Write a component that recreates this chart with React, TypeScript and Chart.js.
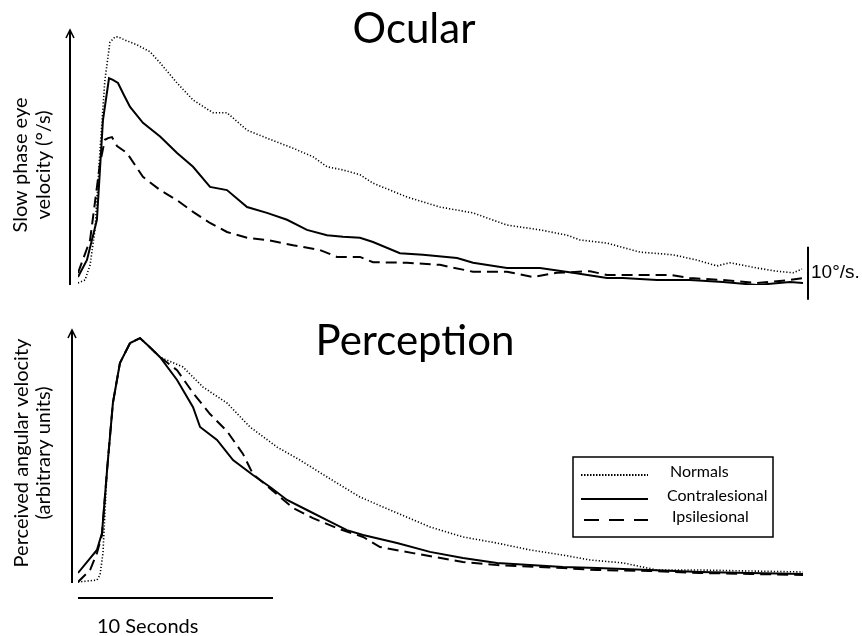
import React, { useEffect, useRef } from "react";
import { Chart, registerables } from "chart.js";

Chart.register(...registerables);

// ---------- Ocular panel (time in s, slow phase eye velocity in °/s) ----------
const ocularNormalsT = [0, 0.36, 0.62, 0.87, 1.13, 1.38, 1.64, 1.9, 2.05, 2.41, 3.03, 3.69, 4.21, 5.08, 5.9, 6.92, 7.64, 8.67, 9.69, 11.03, 12.05, 12.77, 13.59, 14.46, 15.13, 16.87, 18.56, 20.26, 22.0, 23.69, 25.08, 25.74, 27.13, 28.82, 30.51, 31.74, 32.77, 33.44, 34.82, 35.85, 36.67, 37.13];
const ocularNormalsV = [0.38, 0.94, 3.77, 10.4, 25.5, 38.7, 45.8, 46.8, 46.8, 46.2, 45.3, 44.0, 41.9, 38.1, 34.9, 32.5, 32.5, 29.2, 27.7, 25.8, 24.2, 22.3, 21.7, 20.8, 19.2, 16.6, 14.7, 13.6, 11.3, 10.4, 9.4, 8.5, 7.9, 6.2, 5.7, 4.7, 3.6, 4.2, 3.2, 2.6, 2.3, 3.0];

const ocularContraT = [0, 0.46, 0.97, 1.28, 1.59, 1.79, 2.05, 2.36, 2.67, 3.33, 4.21, 5.08, 5.9, 6.77, 7.64, 8.67, 9.69, 10.72, 11.74, 12.77, 13.59, 14.46, 15.13, 16.51, 17.69, 19.44, 20.26, 22.0, 23.69, 25.38, 27.13, 27.95, 29.69, 31.38, 33.08, 34.82, 36.51, 37.18];
const ocularContraV = [1.51, 4.72, 12.3, 31.1, 39.0, 38.7, 38.1, 35.8, 33.6, 30.6, 28.0, 24.9, 22.3, 18.5, 17.9, 14.7, 13.6, 12.3, 10.4, 9.4, 9.1, 8.9, 8.1, 6.0, 5.7, 5.1, 4.2, 3.2, 3.2, 2.3, 1.3, 1.3, 0.94, 0.94, 0.57, 0.0, 0.57, 0.38];

const ocularIpsiT = [0, 0.62, 1.13, 1.38, 1.54, 1.74, 2.0, 2.51, 3.33, 4.21, 5.08, 5.9, 6.77, 7.64, 8.67, 9.69, 11.03, 12.41, 13.28, 14.46, 15.13, 16.87, 18.56, 20.26, 22.0, 23.33, 24.56, 26.26, 27.13, 28.31, 30.36, 31.38, 33.08, 34.82, 36.51, 37.18];
const ocularIpsiV = [2.26, 8.5, 23.0, 27.4, 27.7, 27.9, 26.2, 24.9, 20.4, 17.9, 16.0, 13.8, 11.7, 10.0, 8.9, 8.5, 7.5, 6.6, 5.3, 5.3, 4.3, 4.2, 3.8, 2.5, 2.5, 1.5, 2.3, 2.6, 1.9, 1.9, 1.9, 1.3, 0.94, 0.38, 0.94, 1.3];

// ---------- Perception panel (time in s, perceived angular velocity, arbitrary units) ----------
const percNormalsT = [0, 0.97, 1.13, 1.28, 1.49, 1.79, 2.15, 2.67, 3.18, 4.21, 5.38, 6.41, 7.64, 8.82, 10.21, 11.38, 12.77, 14.46, 16.36, 18.05, 19.74, 21.49, 23.18, 24.87, 26.26, 27.95, 29.69, 31.9, 34.46, 37.18];
const percNormalsV = [0.4, 1.2, 3.3, 12.2, 46.1, 73.5, 89.8, 98.0, 100, 92.2, 88.2, 80.0, 73.5, 63.7, 55.5, 50.2, 43.3, 35.1, 28.6, 22.9, 18.8, 16.3, 13.5, 11.4, 9.4, 8.2, 5.3, 5.3, 4.9, 4.5];

const percContraT = [0, 0.97, 1.23, 1.49, 1.79, 2.15, 2.67, 3.18, 3.69, 4.21, 5.08, 5.9, 6.26, 7.13, 7.95, 8.97, 9.85, 10.72, 11.74, 12.77, 13.79, 14.62, 16.36, 18.05, 19.74, 21.49, 23.18, 24.87, 26.62, 29.33, 31.9, 34.46, 37.18];
const percContraV = [4.1, 13.5, 20.4, 46.1, 73.5, 89.8, 98.0, 100, 96.3, 92.2, 82.9, 71.8, 63.7, 58.4, 50.2, 44.1, 39.2, 33.9, 29.8, 25.7, 21.6, 19.6, 16.3, 12.7, 10.2, 8.2, 7.3, 6.5, 6.1, 5.3, 4.5, 4.1, 3.7];

const percIpsiT = [0, 0.62, 0.97, 1.23, 1.49, 1.79, 2.15, 2.67, 3.18, 4.21, 5.08, 5.9, 6.77, 7.64, 8.46, 8.97, 10.0, 11.03, 12.05, 13.28, 14.62, 15.49, 17.18, 19.74, 21.49, 24.87, 26.62, 29.33, 31.9, 34.46, 37.18];
const percIpsiV = [0.4, 5.3, 12.2, 19.6, 46.1, 73.5, 89.8, 98.0, 100, 92.2, 86.9, 77.6, 69.0, 62.0, 52.7, 44.5, 37.6, 30.6, 26.5, 22.4, 18.8, 14.7, 12.2, 8.6, 7.3, 6.1, 5.3, 4.9, 4.1, 3.7, 3.3];

const seriesLabels = ["Normals", "Contralesional", "Ipsilesional"];
const panelTitles = ["Ocular", "Perception"];
const ocularYLabel = ["Slow phase eye", "velocity (°/s)"];
const percYLabel = ["Perceived angular velocity", "(arbitrary units)"];
const ocularScaleBar = 10; // °/s
const timeScaleBar = 10; // seconds
const ocularScaleText = "10°/s.";
const timeScaleText = "10 Seconds";

const T_MAX = 37.18;
const LABEL_FONT = "Lato, 'Open Sans', sans-serif";

const pts = (t: number[], v: number[]) => t.map((x, i) => ({ x, y: v[i] }));

const styleFor = (i: number) => {
  if (i === 0) return { borderDash: [1.2, 2], borderWidth: 1.6 };
  if (i === 1) return { borderDash: [] as number[], borderWidth: 2 };
  return { borderDash: [11, 6], borderWidth: 2 };
};

const makeDatasets = (sets: { t: number[]; v: number[] }[]) =>
  sets.map((s, i) => ({
    label: seriesLabels[i],
    data: pts(s.t, s.v),
    borderColor: "#000",
    backgroundColor: "#000",
    pointRadius: 0,
    tension: 0,
    fill: false,
    ...styleFor(i),
  }));

function drawArrowAxis(ctx: CanvasRenderingContext2D, x: number, yBottom: number, yTop: number) {
  ctx.save();
  ctx.strokeStyle = "#000";
  ctx.lineWidth = 2;
  ctx.setLineDash([]);
  ctx.beginPath();
  ctx.moveTo(x, yBottom);
  ctx.lineTo(x, yTop + 1);
  ctx.stroke();
  ctx.lineWidth = 1.6;
  ctx.beginPath();
  ctx.moveTo(x - 4, yTop + 8);
  ctx.lineTo(x, yTop);
  ctx.lineTo(x + 4, yTop + 8);
  ctx.stroke();
  ctx.restore();
}

function drawRotatedLabel(ctx: CanvasRenderingContext2D, lines: string[], xs: number[], cy: number) {
  ctx.save();
  ctx.fillStyle = "#000";
  ctx.font = `20px ${LABEL_FONT}`;
  ctx.textAlign = "center";
  ctx.textBaseline = "middle";
  lines.forEach((ln, i) => {
    ctx.save();
    ctx.translate(xs[i], cy);
    ctx.rotate(-Math.PI / 2);
    ctx.fillText(ln, 0, 0);
    ctx.restore();
  });
  ctx.restore();
}

const ocularDecor = {
  id: "ocularDecor",
  afterDraw(chart: any) {
    const ctx = chart.ctx as CanvasRenderingContext2D;
    const { x, y } = chart.scales;
    const area = chart.chartArea;
    drawArrowAxis(ctx, area.left - 8, y.getPixelForValue(0), area.top);
    // title
    ctx.save();
    ctx.fillStyle = "#000";
    ctx.font = `42px ${LABEL_FONT}`;
    ctx.textAlign = "center";
    ctx.textBaseline = "alphabetic";
    ctx.fillText(panelTitles[0], 414, 43);
    ctx.restore();
    // vertical scale bar
    const bx = x.getPixelForValue(T_MAX) + 5;
    const base = -2.8;
    ctx.save();
    ctx.strokeStyle = "#000";
    ctx.lineWidth = 2;
    ctx.beginPath();
    ctx.moveTo(bx, y.getPixelForValue(base));
    ctx.lineTo(bx, y.getPixelForValue(base + ocularScaleBar));
    ctx.stroke();
    ctx.fillStyle = "#000";
    ctx.font = "19px 'Liberation Sans', Arial, sans-serif";
    ctx.textAlign = "left";
    ctx.textBaseline = "middle";
    ctx.fillText(ocularScaleText, bx + 3, y.getPixelForValue(base + ocularScaleBar / 2) - 1);
    ctx.restore();
    drawRotatedLabel(ctx, ocularYLabel, [21, 44], 165);
  },
};

const percDecor = {
  id: "percDecor",
  afterDraw(chart: any) {
    const ctx = chart.ctx as CanvasRenderingContext2D;
    const { x, y } = chart.scales;
    const area = chart.chartArea;
    drawArrowAxis(ctx, area.left - 6, y.getPixelForValue(0), area.top);
    ctx.save();
    ctx.fillStyle = "#000";
    ctx.font = `42px ${LABEL_FONT}`;
    ctx.textAlign = "center";
    ctx.textBaseline = "alphabetic";
    ctx.fillText(panelTitles[1], 415, 45);
    ctx.restore();
    // time scale bar
    const sy = area.bottom + 15;
    ctx.save();
    ctx.strokeStyle = "#000";
    ctx.lineWidth = 2;
    ctx.beginPath();
    ctx.moveTo(x.getPixelForValue(0), sy);
    ctx.lineTo(x.getPixelForValue(timeScaleBar), sy);
    ctx.stroke();
    ctx.fillStyle = "#000";
    ctx.font = `20px ${LABEL_FONT}`;
    ctx.textAlign = "left";
    ctx.textBaseline = "alphabetic";
    ctx.fillText(timeScaleText, x.getPixelForValue(0) + 19, sy + 35);
    ctx.restore();
    drawRotatedLabel(ctx, percYLabel, [22, 44], 143);
    // legend box
    const lx = 573, ly = 147, lw = 200, lh = 80;
    ctx.save();
    ctx.fillStyle = "#fff";
    ctx.fillRect(lx, ly, lw, lh);
    ctx.strokeStyle = "#000";
    ctx.lineWidth = 1.5;
    ctx.strokeRect(lx, ly, lw, lh);
    const rows = [165, 189, 210];
    const textX = [670, 667, 672];
    chart.data.datasets.forEach((ds: any, i: number) => {
      ctx.save();
      ctx.strokeStyle = "#000";
      ctx.lineWidth = 2;
      if (i === 0) ctx.setLineDash([1.5, 1.5]);
      else if (i === 2) ctx.setLineDash([15, 10]);
      else ctx.setLineDash([]);
      ctx.beginPath();
      ctx.moveTo(i === 2 ? 584 : 581, rows[i]);
      ctx.lineTo(648, rows[i]);
      ctx.stroke();
      ctx.restore();
      ctx.fillStyle = "#000";
      ctx.font = `16px ${LABEL_FONT}`;
      ctx.textAlign = "left";
      ctx.textBaseline = "middle";
      ctx.fillText(ds.label, textX[i], rows[i] - 3);
    });
    ctx.restore();
  },
};

function makeConfig(datasets: any[], yMax: number, padding: any, plugin: any) {
  return {
    type: "line",
    data: { datasets },
    options: {
      animation: false,
      responsive: false,
      devicePixelRatio: 1,
      layout: { padding },
      scales: {
        x: { type: "linear", min: 0, max: T_MAX, display: false },
        y: { type: "linear", min: 0, max: yMax, display: false },
      },
      plugins: { legend: { display: false }, tooltip: { enabled: false }, title: { display: false } },
      elements: { line: { borderCapStyle: "butt" } },
    },
    plugins: [plugin],
  } as any;
}

export default function App() {
  const topRef = useRef<HTMLCanvasElement>(null);
  const botRef = useRef<HTMLCanvasElement>(null);

  useEffect(() => {
    const top = new Chart(
      topRef.current!,
      makeConfig(
        makeDatasets([
          { t: ocularNormalsT, v: ocularNormalsV },
          { t: ocularContraT, v: ocularContraV },
          { t: ocularIpsiT, v: ocularIpsiV },
        ]),
        48.1,
        { left: 78, right: 59, top: 30, bottom: 25 },
        ocularDecor
      )
    );
    const bot = new Chart(
      botRef.current!,
      makeConfig(
        makeDatasets([
          { t: percNormalsT, v: percNormalsV },
          { t: percContraT, v: percContraV },
          { t: percIpsiT, v: percIpsiV },
        ]),
        103.3,
        { left: 78, right: 59, top: 20, bottom: 53 },
        percDecor
      )
    );
    return () => {
      top.destroy();
      bot.destroy();
    };
  }, []);

  return (
    <div style={{ position: "absolute", left: 0, top: 0, width: 862, height: 636, background: "#fff" }}>
      <canvas ref={topRef} width={862} height={310} style={{ position: "absolute", left: 0, top: 0 }} />
      <canvas ref={botRef} width={862} height={326} style={{ position: "absolute", left: 0, top: 310 }} />
    </div>
  );
}
